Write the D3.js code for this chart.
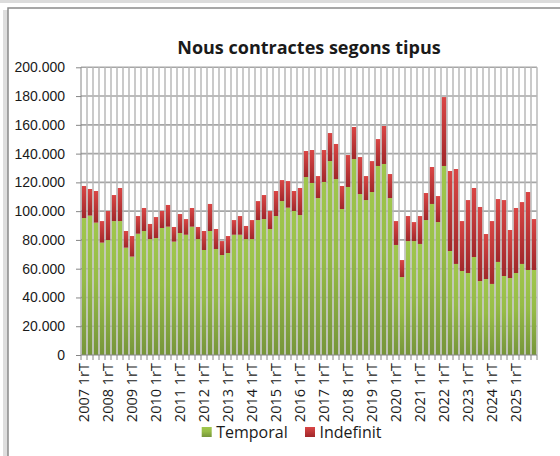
<!DOCTYPE html>
<html>
<head>
<meta charset="utf-8">
<script src="https://cdn.jsdelivr.net/npm/d3@7"></script>
<style>
  body { margin: 0; background: #fff; }
  svg { display: block; font-family: "Open Sans", "DejaVu Sans", sans-serif; }
  .axis path, .axis line { stroke: #868686; }
  .axis text { fill: #1a1a1a; }
</style>
</head>
<body>
<svg id="chart" width="560" height="456"></svg>
<script>
// quarters 2007 1rT .. 2025 4tT
var years = d3.range(2007, 2026);
var quarters = ["1rT", "2nT", "3rT", "4tT"];

// thousands of contracts
var temporal = [95.2, 96.9, 92.0, 78.1, 79.9, 93.1, 93.1, 74.6, 68.4, 84.3,
  86.2, 80.6, 81.3, 88.3, 89.2, 78.8, 84.8, 83.6, 89.2, 80.6,
  73.0, 86.2, 73.7, 69.5, 70.9, 83.6, 83.6, 80.6, 80.6, 93.8,
  94.5, 87.6, 96.6, 107.0, 102.4, 100.1, 97.3, 123.7, 119.6, 109.1,
  120.3, 134.8, 122.3, 101.5, 116.8, 136.2, 111.9, 107.7, 113.3, 131.4,
  132.8, 109.1, 76.5, 54.2, 79.2, 79.2, 77.2, 93.8, 105.0, 92.4,
  131.4, 72.3, 63.3, 58.4, 57.0, 68.1, 51.4, 52.8, 49.4, 64.7,
  54.9, 53.5, 57.0, 63.3, 59.1, 59.1];

var indefinit = [22.3, 18.5, 22.0, 15.0, 20.2, 18.1, 23.0, 11.6, 14.3, 12.3,
  16.0, 10.5, 14.6, 11.8, 15.1, 10.2, 13.2, 10.9, 13.0, 8.4,
  13.2, 18.8, 13.9, 9.7, 11.8, 10.2, 13.0, 9.1, 13.2, 13.2,
  16.7, 12.5, 17.4, 14.6, 18.5, 13.9, 18.8, 18.1, 22.9, 15.3,
  22.2, 19.5, 24.4, 16.0, 22.2, 22.3, 25.7, 16.7, 21.5, 18.7,
  26.4, 16.7, 16.6, 11.8, 17.4, 13.2, 19.4, 18.8, 25.7, 18.1,
  47.9, 55.6, 66.0, 34.7, 50.7, 48.0, 51.5, 31.3, 43.7, 43.7,
  52.8, 33.4, 45.2, 43.0, 54.2, 35.4];

var seriesNames = ["Temporal", "Indefinit"];
var yTicks = d3.range(0, 200001, 20000);

var categories = [];
years.forEach(function(y) {
  quarters.forEach(function(q) { categories.push(y + " " + q); });
});

var data = categories.map(function(c, i) {
  return { cat: c, Temporal: temporal[i] * 1000, Indefinit: indefinit[i] * 1000 };
});

var svg = d3.select("#chart");
var plotLeft = 81, plotRight = 537, plotTop = 67.3, plotBottom = 355;

var x = d3.scaleBand().domain(categories).range([plotLeft, plotRight])
    .paddingInner(0.28).paddingOuter(0.14);
var y = d3.scaleLinear().domain([0, 200000]).range([plotBottom, plotTop]);

var locale = d3.formatLocale({ decimal: ",", thousands: ".", grouping: [3], currency: ["", "€"] });
var fmt = locale.format(",");

var defs = svg.append("defs");
function grad(id, stops) {
  var g = defs.append("linearGradient").attr("id", id)
      .attr("x1", 0).attr("y1", 0).attr("x2", 0).attr("y2", 1);
  stops.forEach(function(s) {
    g.append("stop").attr("offset", s[0]).attr("stop-color", s[1]);
  });
}
grad("gGreen", [["0%", "#a0c74d"], ["45%", "#96bc46"], ["100%", "#76953a"]]);
grad("gRed", [["0%", "#da4645"], ["100%", "#a0272a"]]);
var colors = { Temporal: "url(#gGreen)", Indefinit: "url(#gRed)" };

// outer chart frame (cropped on right and bottom)
svg.append("rect").attr("x", 0).attr("y", 0).attr("width", 560).attr("height", 3)
    .attr("fill", "#dcdcdc");
svg.append("rect").attr("x", 3).attr("y", 10).attr("width", 5).attr("height", 446)
    .attr("fill", "#d0d0d0").attr("opacity", 0.7);
svg.append("rect").attr("x", 8).attr("y", 8).attr("width", 600).attr("height", 500)
    .attr("fill", "#fff").attr("stroke", "#8a8a8a").attr("stroke-width", 1.5);

// grid
svg.append("g").selectAll("line")
    .data(yTicks.slice(1))
    .enter().append("line")
    .attr("x1", plotLeft).attr("x2", plotRight)
    .attr("y1", function(d) { return y(d); })
    .attr("y2", function(d) { return y(d); })
    .attr("stroke", "#a6a6a6").attr("stroke-width", 1.6);

var gapHalf = (x.step() - x.bandwidth()) / 2;
svg.append("g").selectAll("line")
    .data(categories)
    .enter().append("line")
    .attr("x1", function(d) { return x(d) + x.bandwidth() + gapHalf; })
    .attr("x2", function(d) { return x(d) + x.bandwidth() + gapHalf; })
    .attr("y1", plotTop).attr("y2", plotBottom)
    .attr("stroke", "#b8b8b8").attr("stroke-width", 1.5);

// stacked bars
var stack = d3.stack().keys(seriesNames)(data);
svg.append("g").selectAll("g")
    .data(stack)
    .enter().append("g")
    .attr("fill", function(s) { return colors[s.key]; })
    .selectAll("rect")
    .data(function(s) { return s; })
    .enter().append("rect")
    .attr("x", function(d) { return x(d.data.cat); })
    .attr("width", x.bandwidth())
    .attr("y", function(d) { return y(d[1]); })
    .attr("height", function(d) { return y(d[0]) - y(d[1]); });

// axes
var yAxis = d3.axisLeft(y).tickValues(yTicks).tickFormat(fmt)
    .tickSize(5).tickPadding(11);
svg.append("g").attr("class", "y axis")
    .attr("transform", "translate(" + plotLeft + ",0)")
    .call(yAxis)
    .call(function(g) { g.selectAll("text").style("font-size", "14px"); })
    .call(function(g) { g.select(".domain").attr("d", "M0," + plotBottom + "V" + plotTop); });

var xAxis = d3.axisBottom(x).tickSize(0).tickFormat("");
var xg = svg.append("g").attr("class", "x axis")
    .attr("transform", "translate(0," + plotBottom + ")")
    .call(xAxis);
xg.select(".domain").attr("d", "M" + plotLeft + ",0H" + plotRight);
xg.selectAll(".bnd")
    .data(d3.range(categories.length + 1))
    .enter().append("line")
    .attr("class", "bnd")
    .attr("x1", function(i) { return plotLeft + (plotRight - plotLeft) * i / categories.length; })
    .attr("x2", function(i) { return plotLeft + (plotRight - plotLeft) * i / categories.length; })
    .attr("y1", 0).attr("y2", 5);

svg.append("g").selectAll("text")
    .data(categories.filter(function(c) { return c.slice(-3) === "1rT"; }))
    .enter().append("text")
    .attr("transform", function(d) {
      return "translate(" + (x(d) + x.bandwidth() / 2) + ",363) rotate(-90)";
    })
    .attr("dy", "0.36em")
    .style("text-anchor", "end")
    .style("font-size", "14.5px")
    .attr("fill", "#1a1a1a")
    .text(function(d) { return d; });

// title
svg.append("text")
    .attr("x", (plotLeft + plotRight) / 2).attr("y", 54)
    .style("text-anchor", "middle")
    .style("font-size", "18px").style("font-weight", "bold")
    .attr("fill", "#1a1a1a")
    .text("Nous contractes segons tipus");

// legend
var legendX = [201.7, 305];
var lg = svg.append("g").selectAll("g")
    .data(seriesNames)
    .enter().append("g")
    .attr("transform", function(d, i) { return "translate(" + legendX[i] + ",427)"; });
lg.append("rect").attr("width", 10).attr("height", 10)
    .attr("fill", function(d) { return colors[d]; });
lg.append("text").attr("x", 14.5).attr("y", 11)
    .style("font-size", "16px").attr("fill", "#1a1a1a")
    .text(function(d) { return d; });
</script>
</body>
</html>
